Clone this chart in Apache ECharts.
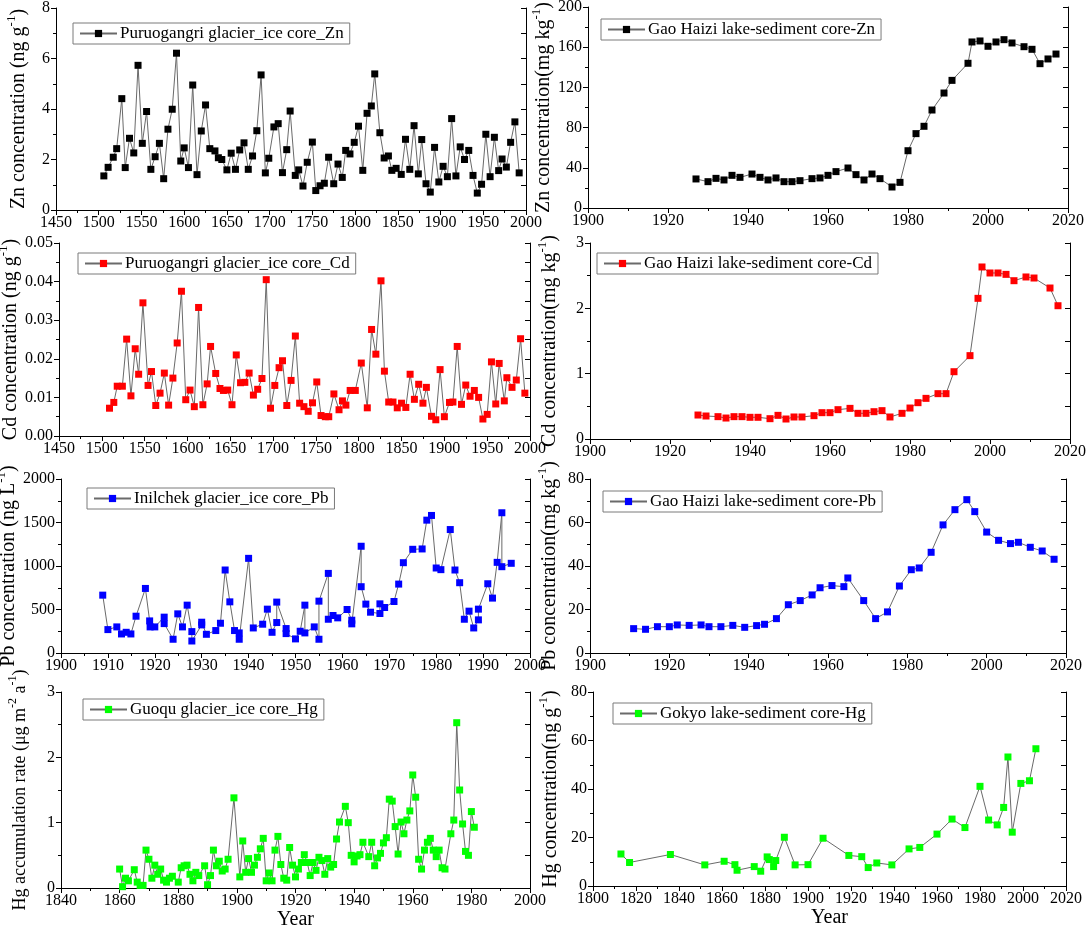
<!DOCTYPE html>
<html>
<head>
<meta charset="utf-8">
<script src="https://cdn.jsdelivr.net/npm/echarts@6/dist/echarts.min.js"></script>
<style>
  html, body { margin: 0; padding: 0; background: #fff; }
  #chart { width: 1086px; height: 925px; }
</style>
</head>
<body>
<div id="chart"></div>
<script>
// values, [year, value]
const znIce = [[1506,1.35],[1511,1.69],[1517,2.09],[1521,2.43],[1527,4.41],[1531,1.68],[1536,2.84],[1541,2.26],[1546,5.73],[1551,2.64],[1556,3.90],[1561,1.61],[1566,2.11],[1571,2.64],[1576,1.24],[1581,3.20],[1586,3.99],[1591,6.21],[1596,1.94],[1600,2.46],[1605,1.68],[1610,4.95],[1615,1.40],[1620,3.13],[1625,4.16],[1630,2.43],[1636,2.34],[1640,2.07],[1644,2.00],[1650,1.59],[1655,2.25],[1660,1.61],[1665,2.38],[1670,2.66],[1675,1.61],[1680,2.14],[1685,3.14],[1690,5.35],[1695,1.47],[1699,2.05],[1705,3.29],[1710,3.42],[1715,1.48],[1720,2.39],[1724,3.92],[1730,1.37],[1734,1.59],[1739,0.95],[1744,1.89],[1750,2.69],[1754,0.77],[1759,0.96],[1764,1.06],[1769,2.09],[1775,1.04],[1780,1.82],[1785,1.29],[1789,2.36],[1794,2.22],[1799,2.68],[1804,3.32],[1809,1.57],[1814,3.83],[1819,4.12],[1823,5.39],[1829,3.06],[1834,2.06],[1839,2.14],[1843,1.57],[1848,1.65],[1854,1.41],[1859,2.80],[1864,1.61],[1869,3.34],[1874,1.43],[1878,2.79],[1883,1.04],[1888,0.71],[1893,2.48],[1898,1.11],[1903,1.73],[1908,1.32],[1913,3.62],[1918,1.35],[1923,2.50],[1928,2.00],[1933,2.36],[1938,1.37],[1943,0.67],[1948,1.02],[1953,3.00],[1958,1.32],[1963,2.88],[1968,1.56],[1972,2.02],[1977,1.70],[1982,2.68],[1987,3.49],[1992,1.47]];

const znLake = [[1927,28.9],[1930,26.2],[1932,29.5],[1934,27.9],[1936,32.5],[1938,30.5],[1941,33.8],[1943,30.5],[1945,27.9],[1947,29.9],[1949,26.2],[1951,26.2],[1953,27.2],[1956,29.2],[1958,29.9],[1960,32.5],[1962,36.2],[1965,39.8],[1967,33.2],[1969,27.9],[1971,33.8],[1973,29.2],[1976,20.9],[1978,25.5],[1980,57],[1982,74],[1984,81.3],[1986,97.5],[1989,114.4],[1991,127],[1995,144],[1996,165.2],[1998,166.2],[2000,160.9],[2002,165.2],[2004,167.5],[2006,164.2],[2009,160.5],[2011,157.9],[2013,143.6],[2015,148.3],[2017,153.2]];

const cdIce = [[1509,0.0072],[1514,0.0087],[1518,0.0129],[1524,0.0129],[1529,0.0251],[1534,0.0104],[1539,0.0226],[1543,0.0160],[1548,0.0345],[1554,0.0131],[1558,0.0167],[1563,0.0079],[1568,0.0111],[1573,0.0163],[1578,0.0080],[1583,0.0150],[1588,0.0241],[1593,0.0375],[1598,0.0094],[1603,0.0119],[1608,0.0076],[1613,0.0333],[1618,0.0081],[1623,0.0135],[1627,0.0232],[1633,0.0162],[1638,0.0123],[1642,0.0118],[1647,0.0119],[1652,0.0081],[1657,0.0210],[1662,0.0138],[1667,0.0139],[1672,0.0163],[1677,0.0106],[1682,0.0121],[1687,0.0149],[1692,0.0405],[1697,0.0072],[1702,0.0131],[1707,0.0177],[1711,0.0195],[1716,0.0079],[1721,0.0144],[1726,0.0259],[1731,0.0085],[1736,0.0076],[1741,0.0064],[1746,0.0086],[1751,0.0140],[1756,0.0053],[1761,0.0050],[1765,0.0050],[1771,0.0109],[1777,0.0068],[1781,0.0091],[1785,0.0080],[1790,0.0118],[1796,0.0118],[1803,0.0189],[1810,0.0073],[1815,0.0276],[1820,0.0212],[1826,0.0402],[1830,0.0168],[1835,0.0088],[1840,0.0088],[1845,0.0073],[1850,0.0085],[1855,0.0074],[1860,0.0160],[1865,0.0095],[1870,0.0134],[1875,0.0085],[1879,0.0126],[1885,0.0051],[1890,0.0042],[1895,0.0172],[1900,0.0050],[1906,0.0087],[1910,0.0088],[1915,0.0232],[1920,0.0082],[1925,0.0132],[1930,0.0103],[1935,0.0118],[1940,0.0100],[1945,0.0044],[1950,0.0056],[1955,0.0192],[1960,0.0083],[1964,0.0188],[1970,0.0091],[1973,0.0151],[1979,0.0126],[1984,0.0145],[1989,0.0252],[1994,0.0111]];

const cdLake = [[1927,0.367],[1929,0.352],[1932,0.342],[1934,0.321],[1936,0.342],[1938,0.342],[1940,0.332],[1942,0.332],[1945,0.311],[1947,0.362],[1949,0.306],[1951,0.337],[1953,0.337],[1956,0.357],[1958,0.403],[1960,0.403],[1962,0.449],[1965,0.469],[1967,0.393],[1969,0.393],[1971,0.418],[1973,0.434],[1975,0.337],[1978,0.393],[1980,0.474],[1982,0.556],[1984,0.622],[1987,0.694],[1989,0.694],[1991,1.03],[1995,1.276],[1997,2.153],[1998,2.633],[2000,2.541],[2002,2.541],[2004,2.52],[2006,2.423],[2009,2.48],[2011,2.464],[2015,2.311],[2017,2.04]];

const pbIce = [[1908.9,665],[1910,269],[1911.9,300],[1912.9,219],[1913.9,238],[1914.9,219],[1916,423],[1918,742],[1918.9,369],[1919,300],[1920,300],[1922,412],[1922,338],[1923.9,158],[1924.9,450],[1925.9,300],[1926.9,550],[1927.9,246],[1927.9,138],[1930,323],[1930,354],[1931,215],[1933,258],[1934,342],[1935,954],[1936,588],[1937,258],[1938,231],[1938,158],[1940,1088],[1941,288],[1943,331],[1944,504],[1945,238],[1946,350],[1946,585],[1948,281],[1948,223],[1950,162],[1951,250],[1952,550],[1952,231],[1954,300],[1955,158],[1955,596],[1957,915],[1957,388],[1958,431],[1959,404],[1961,500],[1962,377],[1962,335],[1964,1227],[1964,762],[1965,562],[1966,469],[1968,454],[1968,565],[1969,523],[1971,592],[1972,792],[1973,1038],[1975,1192],[1977,1196],[1978,1527],[1979,1581],[1980,977],[1981,958],[1983,1419],[1984,954],[1985,808],[1986,388],[1987,481],[1988,288],[1989,381],[1989,504],[1991,796],[1992,631],[1993,1042],[1994,1612],[1994,992],[1996,1031]];

const pbLake = [[1911,11.2],[1914,10.9],[1917,12.1],[1920,12.1],[1922,12.9],[1925,12.7],[1928,12.9],[1930,12.1],[1933,12.1],[1936,12.7],[1939,11.8],[1942,12.6],[1944,13.2],[1947,15.8],[1950,22.2],[1953,24.1],[1956,26.7],[1958,30.0],[1961,31.0],[1964,30.5],[1965,34.5],[1969,24.1],[1972,15.8],[1975,18.9],[1978,30.8],[1981,38.3],[1983,39.1],[1986,46.3],[1989,58.9],[1992,65.9],[1995,70.5],[1997,65.0],[2000,55.6],[2003,51.8],[2006,50.3],[2008,50.9],[2011,48.6],[2014,46.9],[2017,43.1]];

const hgIce = [[1860,0.29],[1861,0.02],[1862,0.15],[1863,0.11],[1865,0.28],[1866,0.09],[1867,0.04],[1868,0.04],[1869,0.58],[1870,0.44],[1871,0.15],[1872,0.35],[1873,0.21],[1874,0.29],[1875,0.12],[1876,0.09],[1877,0.15],[1878,0.18],[1880,0.09],[1881,0.31],[1882,0.34],[1883,0.35],[1884,0.21],[1885,0.11],[1886,0.24],[1887,0.19],[1889,0.34],[1890,0.05],[1891,0.19],[1892,0.58],[1893,0.34],[1894,0.41],[1895,0.26],[1896,0.29],[1897,0.44],[1899,1.38],[1901,0.17],[1902,0.72],[1903,0.24],[1904,0.45],[1905,0.24],[1906,0.35],[1907,0.47],[1908,0.60],[1909,0.76],[1910,0.11],[1911,0.23],[1912,0.11],[1913,0.58],[1914,0.79],[1915,0.36],[1916,0.15],[1917,0.12],[1918,0.62],[1919,0.35],[1920,0.17],[1921,0.29],[1922,0.39],[1923,0.51],[1924,0.39],[1925,0.19],[1926,0.39],[1927,0.27],[1928,0.47],[1929,0.42],[1930,0.21],[1931,0.45],[1932,0.32],[1933,0.36],[1934,0.75],[1935,1.01],[1937,1.25],[1938,1.00],[1939,0.50],[1940,0.40],[1941,0.49],[1942,0.51],[1943,0.70],[1945,0.48],[1946,0.70],[1947,0.34],[1948,0.46],[1949,0.53],[1950,0.69],[1951,0.77],[1952,1.36],[1953,1.33],[1954,0.94],[1955,0.52],[1956,1.01],[1957,0.83],[1958,1.04],[1959,1.18],[1960,1.73],[1961,1.39],[1962,0.44],[1963,0.29],[1964,0.58],[1965,0.70],[1966,0.76],[1967,0.58],[1968,0.48],[1969,0.58],[1970,0.31],[1971,0.29],[1973,0.83],[1974,1.04],[1975,2.53],[1976,1.50],[1977,0.98],[1978,0.56],[1979,0.50],[1980,1.17],[1981,0.93]];

const hgLake = [[1813,13.2],[1817,9.7],[1836,13.0],[1852,8.7],[1861,10.2],[1866,8.8],[1867,6.5],[1875,8.0],[1878,6.1],[1881,12.0],[1882,10.9],[1884,8.0],[1885,10.5],[1889,20.1],[1894,8.7],[1900,8.8],[1907,19.7],[1919,12.6],[1925,12.1],[1928,7.6],[1932,9.5],[1939,8.7],[1947,15.3],[1952,15.9],[1960,21.4],[1967,27.6],[1973,24.1],[1980,41.1],[1984,27.2],[1988,25.2],[1991,32.4],[1993,53.2],[1995,22.2],[1999,42.3],[2003,43.4],[2006,56.6]];

const seriesNames = [
  'Puruogangri glacier_ice core_Zn', 'Gao Haizi lake-sediment core-Zn',
  'Puruogangri glacier_ice core_Cd', 'Gao Haizi lake-sediment core-Cd',
  'Inilchek glacier_ice core_Pb', 'Gao Haizi lake-sediment core-Pb',
  'Guoqu glacier_ice core_Hg', 'Gokyo lake-sediment core-Hg'
];
// y titles: alternating normal / superscript pieces
const yTitles = [
  ['Zn concentration (ng g', '-1', ')'], ['Zn concentration(mg kg', '-1', ')'],
  ['Cd concentration (ng g', '-1', ')'], ['Cd concentration(mg kg', '-1', ')'],
  ['Pb concentration (ng L', '-1', ')'], ['Pb concentration(mg kg', '-1', ')'],
  ['Hg accumulation rate (\u03bcg m', '-2', ' a', '-1', ')'], ['Hg concentration(ng g', '-1', ')']
];

const FONT = '"Liberation Serif", "Times New Roman", serif';

// layout: grid [left, top, width, height], x range, y range, legend pos, colour
const panels = [
  { data: znIce, grid: [56, 8, 470, 202], x: [1450, 2000, 50], y: [0, 8, 2], leg: [73, 23], color: '#000000', gap: 27 },
  { data: znLake, grid: [588, 7, 480, 201], x: [1900, 2020, 20], y: [0, 200, 40], leg: [601, 19], color: '#000000', gap: 30 },
  { data: cdIce, grid: [59, 243, 471, 193], x: [1450, 2000, 50], y: [0, 0.05, 0.01], leg: [78, 253], color: '#ff0000', gap: 29, dec: 2 },
  { data: cdLake, grid: [590, 243, 480, 196], x: [1900, 2020, 20], y: [0, 3, 1], leg: [597, 253], color: '#ff0000', gap: 30 },
  { data: pbIce, grid: [61, 479, 469, 174], x: [1900, 2000, 10], y: [0, 2000, 500], leg: [87, 488], color: '#0000ff', gap: 31 },
  { data: pbLake, grid: [590, 479, 476, 174], x: [1900, 2020, 20], y: [0, 80, 20], leg: [603, 491], color: '#0000ff', gap: 30 },
  { data: hgIce, grid: [61, 692, 469, 196], x: [1840, 2000, 20], y: [0, 3, 1], leg: [83, 699], color: '#00ff00', gap: 32, year: true, tf: 18 },
  { data: hgLake, grid: [593, 692, 473, 194], x: [1800, 2020, 20], y: [0, 80, 20], leg: [613, 703], color: '#00ff00', gap: 32, year: true }
];

function richTitle(parts) {
  return parts.map((p, k) => '{' + (k % 2 ? 's' : 't') + '|' + p + '}').join('');
}

const option = {
  animation: false,
  backgroundColor: '#fff',
  grid: [], xAxis: [], yAxis: [], series: [], legend: []
};

const lineAxis = { lineStyle: { color: '#000', width: 1 } };

panels.forEach((p, i) => {
  const tf = p.tf || 20;
  option.grid.push({ left: p.grid[0], top: p.grid[1], width: p.grid[2], height: p.grid[3], outerBoundsMode: 'none' });
  const xBase = { type: 'value', gridIndex: i, min: p.x[0], max: p.x[1], interval: p.x[2], splitLine: { show: false }, axisLine: lineAxis };
  const yBase = { type: 'value', gridIndex: i, min: p.y[0], max: p.y[1], interval: p.y[2], splitLine: { show: false }, axisLine: lineAxis };
  option.xAxis.push(Object.assign({}, xBase, {
    position: 'bottom',
    axisTick: { show: true, length: 5, lineStyle: { color: '#000' } },
    minorTick: { show: true, splitNumber: 2, length: 3, lineStyle: { color: '#000' } },
    axisLabel: { show: true, color: '#000', fontFamily: FONT, fontSize: 16, margin: 5, showMinLabel: true, showMaxLabel: true, formatter: v => String(v) },
    name: p.year ? 'Year' : '', nameLocation: 'middle', nameGap: 19,
    nameTextStyle: { fontFamily: FONT, fontSize: 20, color: '#000' }
  }));
  option.xAxis.push(Object.assign({}, xBase, {
    position: 'top',
    axisTick: { show: true, inside: true, length: 5, lineStyle: { color: '#000' } },
    minorTick: { show: true, splitNumber: 2, length: 3, lineStyle: { color: '#000' } },
    axisLabel: { show: false }
  }));
  option.yAxis.push(Object.assign({}, yBase, {
    position: 'left',
    axisTick: { show: true, length: 5, lineStyle: { color: '#000' } },
    minorTick: { show: true, splitNumber: 2, length: 3, lineStyle: { color: '#000' } },
    axisLabel: { show: true, color: '#000', fontFamily: FONT, fontSize: 16, margin: 6, showMinLabel: true, showMaxLabel: true,
      formatter: v => p.dec ? v.toFixed(p.dec) : String(v) },
    name: richTitle(yTitles[i]), nameLocation: 'middle', nameRotate: 90, nameGap: p.gap,
    nameTextStyle: { color: '#000', rich: {
      t: { fontFamily: FONT, fontSize: tf, color: '#000', lineHeight: tf + 4, verticalAlign: 'bottom' },
      s: { fontFamily: FONT, fontSize: Math.round(tf * 0.65), color: '#000', lineHeight: tf + 4, verticalAlign: 'top' }
    } }
  }));
  option.yAxis.push(Object.assign({}, yBase, {
    position: 'right',
    axisTick: { show: true, inside: true, length: 5, lineStyle: { color: '#000' } },
    minorTick: { show: true, splitNumber: 2, length: 5, lineStyle: { color: '#000' } },
    axisLabel: { show: false }
  }));
  option.series.push({
    type: 'line', name: seriesNames[i],
    xAxisIndex: 2 * i, yAxisIndex: 2 * i,
    data: p.data,
    symbol: 'rect', symbolSize: 7,
    lineStyle: { color: '#6a6a6a', width: 1 },
    itemStyle: { color: p.color },
    emphasis: { disabled: true }
  });
  option.legend.push({
    data: [seriesNames[i]], left: p.leg[0], top: p.leg[1],
    selectedMode: false,
    borderColor: '#7a7a7a', borderWidth: 1, padding: [2, 6, 2, 6],
    itemWidth: 37, itemHeight: 9, itemGap: 0,
    textStyle: { fontFamily: FONT, fontSize: 17, color: '#000', padding: [0, 0, 0, -2] }
  });
});

const chart = echarts.init(document.getElementById('chart'), null, { renderer: 'canvas' });
chart.setOption(option);
</script>
</body>
</html>
